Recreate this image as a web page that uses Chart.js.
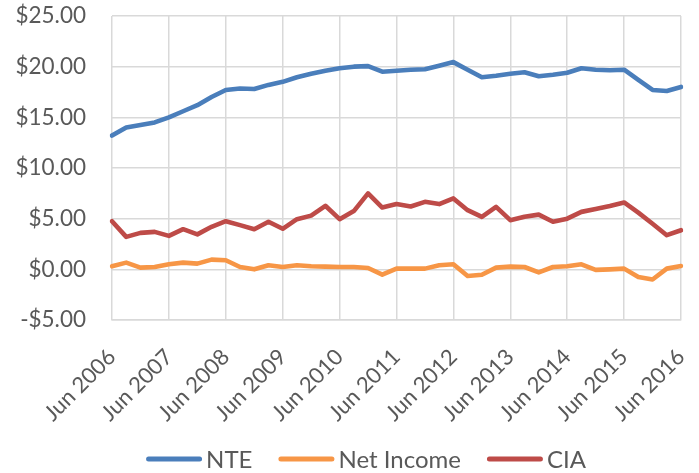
<!DOCTYPE html>
<html>
<head>
<meta charset="utf-8">
<script src="https://cdn.jsdelivr.net/npm/chart.js@4"></script>
<style>
  html, body { margin: 0; padding: 0; background: #fff; }
  #wrap { width: 699px; height: 473px; }
</style>
</head>
<body>
<div id="wrap"><canvas id="chart" width="699" height="473"></canvas></div>
<script>
// quarters, Jun 2006 .. Jun 2016
const quarters = [];
for (let y = 2006; y <= 2016; y++) {
    for (const m of ['Jun', 'Sep', 'Dec', 'Mar']) {
        if (y === 2016 && m !== 'Jun') break;
        quarters.push(m === 'Mar' ? 'Mar ' + (y + 1) : m + ' ' + y);
    }
}

const nte = [13.2, 14.0, 14.25, 14.5, 15.0, 15.6, 16.2, 17.0, 17.7, 17.85, 17.8, 18.2, 18.5,
    18.95, 19.3, 19.6, 19.85, 20.0, 20.05, 19.5, 19.6, 19.7, 19.75, 20.1, 20.45, 19.7, 18.95,
    19.1, 19.3, 19.45, 19.05, 19.2, 19.4, 19.85, 19.7, 19.65, 19.7, 18.7, 17.7, 17.6, 18.0];
const netIncome = [0.3, 0.66, 0.17, 0.23, 0.5, 0.66, 0.56, 0.96, 0.9, 0.23, 0.0, 0.4, 0.23,
    0.4, 0.3, 0.27, 0.23, 0.23, 0.13, -0.53, 0.07, 0.07, 0.07, 0.4, 0.5, -0.66, -0.53,
    0.17, 0.27, 0.23, -0.3, 0.23, 0.3, 0.5, -0.05, 0.0, 0.07, -0.76, -1.0, 0.07, 0.33];
const cia = [4.75, 3.2, 3.6, 3.7, 3.3, 3.96, 3.45, 4.2, 4.75, 4.36, 3.96, 4.7, 4.0,
    4.95, 5.3, 6.27, 4.95, 5.75, 7.5, 6.1, 6.44, 6.2, 6.66, 6.44, 7.0, 5.84, 5.18,
    6.17, 4.85, 5.18, 5.4, 4.7, 5.0, 5.67, 5.95, 6.25, 6.6, 5.6, 4.5, 3.37, 3.86];

const seriesNames = ['NTE', 'Net Income', 'CIA'];
const seriesColors = ['#4a7ebb', '#f79646', '#be4b48'];

const fontFamily = 'Lato, "Open Sans", sans-serif';
const textColor = '#595959';
const gridColor = '#d9d9d9';

function money(v) {
    return (v < 0 ? '-$' : '$') + Math.abs(v).toFixed(2);
}

// legend drawn by hand: short thick line + label, all in one centred row
const lineLegend = {
    id: 'lineLegend',
    afterDraw(chart) {
        const ctx = chart.ctx;
        const sw = 56, gap = 4, between = 26, cy = 459, cx = 366;
        ctx.save();
        ctx.font = '24px ' + fontFamily;
        const items = chart.data.datasets.map(ds => ({
            text: ds.label, color: ds.borderColor, w: ctx.measureText(ds.label).width
        }));
        let total = items.reduce((s, it) => s + sw + gap + it.w, 0) + between * (items.length - 1);
        let x = cx - total / 2;
        ctx.textBaseline = 'middle';
        ctx.lineCap = 'round';
        ctx.lineWidth = 5;
        for (const it of items) {
            ctx.strokeStyle = it.color;
            ctx.beginPath();
            ctx.moveTo(x + 2.5, cy);
            ctx.lineTo(x + sw - 2.5, cy);
            ctx.stroke();
            ctx.fillStyle = textColor;
            ctx.fillText(it.text, x + sw + gap, cy + 1);
            x += sw + gap + it.w + between;
        }
        ctx.restore();
    }
};

const datasets = [nte, netIncome, cia].map((vals, i) => ({
    label: seriesNames[i],
    data: vals,
    borderColor: seriesColors[i],
    backgroundColor: seriesColors[i],
    borderWidth: 4.6,
    pointRadius: 0,
    tension: 0,
    borderJoinStyle: 'round',
    borderCapStyle: 'round'
}));

new Chart(document.getElementById('chart'), {
    type: 'line',
    data: { labels: quarters, datasets: datasets },
    plugins: [lineLegend],
    options: {
        responsive: false,
        animation: false,
        layout: { padding: { top: 0, right: 18, left: 0, bottom: 0 } },
        plugins: {
            legend: { display: false },
            tooltip: { enabled: false }
        },
        scales: {
            x: {
                grid: { color: gridColor, lineWidth: 1.5, drawTicks: false },
                border: { color: gridColor, width: 1.5 },
                ticks: {
                    autoSkip: false,
                    maxRotation: 45,
                    minRotation: 45,
                    padding: 24,
                    color: textColor,
                    font: { family: fontFamily, size: 22 },
                    callback: function(val, idx) {
                        return idx % 4 === 0 ? quarters[idx] : null;
                    }
                },
                afterFit: function(scale) {
                    scale.height = 153;
                    scale.paddingRight = 0;
                }
            },
            y: {
                min: -5,
                max: 25,
                grid: { color: gridColor, lineWidth: 1.5, drawTicks: false },
                border: { display: false },
                ticks: {
                    stepSize: 5,
                    padding: 26,
                    color: textColor,
                    font: { family: fontFamily, size: 22.5 },
                    callback: v => money(v)
                },
                afterFit: function(scale) {
                    scale.width = 112;
                    scale.paddingTop = 16;
                    scale.paddingBottom = 0;
                }
            }
        }
    }
});
</script>
</body>
</html>
